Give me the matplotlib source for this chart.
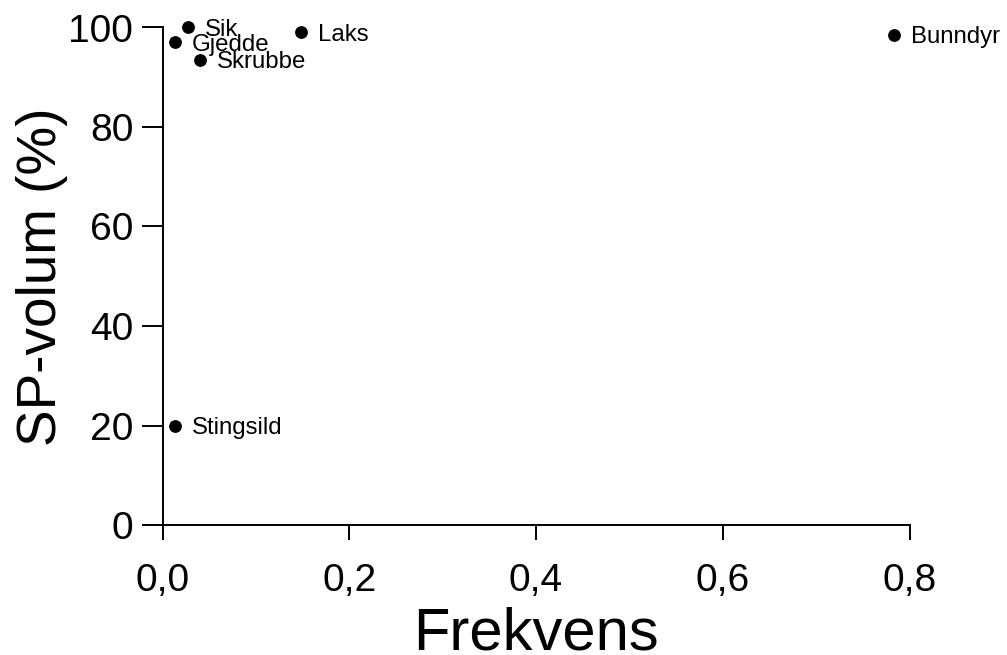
import matplotlib
matplotlib.use("Agg")
import matplotlib.pyplot as plt

# Prey groups: frequency of occurrence vs. share of stomach volume
species = ["Sik", "Gjedde", "Skrubbe", "Laks", "Bunndyr", "Stingsild"]
frekvens = [0.027, 0.013, 0.040, 0.148, 0.783, 0.013]
sp_volum = [100.0, 97.0, 93.5, 99.0, 98.5, 20.0]

x_ticks = [0.0, 0.2, 0.4, 0.6, 0.8]
x_ticklabels = ["0,0", "0,2", "0,4", "0,6", "0,8"]
y_ticks = [0, 20, 40, 60, 80, 100]
y_ticklabels = ["0", "20", "40", "60", "80", "100"]

plt.rcParams["font.family"] = ["Liberation Sans", "DejaVu Sans"]

fig = plt.figure(figsize=(10.07, 6.55), dpi=100)
ax = fig.add_axes([162.5 / 1007, 1 - 525 / 655, 747 / 1007, 497.5 / 655])

ax.scatter(frekvens, sp_volum, s=85, color="black", zorder=3, clip_on=False,
           linewidths=0)

for name, x, y in zip(species, frekvens, sp_volum):
    ax.annotate(name, (x, y), xytext=(12.5, -6.0), textcoords="offset points",
                ha="left", va="baseline", fontsize=17.3, color="black",
                annotation_clip=False)

ax.set_xlim(0, 0.8)
ax.set_ylim(0, 100)
ax.set_xticks(x_ticks)
ax.set_xticklabels(x_ticklabels)
ax.set_yticks(y_ticks)
ax.set_yticklabels(y_ticklabels)

for side in ("top", "right"):
    ax.spines[side].set_visible(False)
for side in ("left", "bottom"):
    ax.spines[side].set_linewidth(1.4)

ax.tick_params(axis="y", direction="out", length=15, width=1.4, pad=6,
               labelsize=28)
ax.tick_params(axis="x", direction="out", length=11, width=1.4, pad=16,
               labelsize=28)

ax.set_xlabel("Frekvens", fontsize=43)
ax.set_ylabel("SP-volum (%)", fontsize=39.5)
ax.xaxis.set_label_coords(0.5, -82 / 497.5)
ax.yaxis.set_label_coords((68 - 162.5) / 747, 0.5)
ax.xaxis.label.set_va("top")

fig.savefig("out.png", dpi=100)
